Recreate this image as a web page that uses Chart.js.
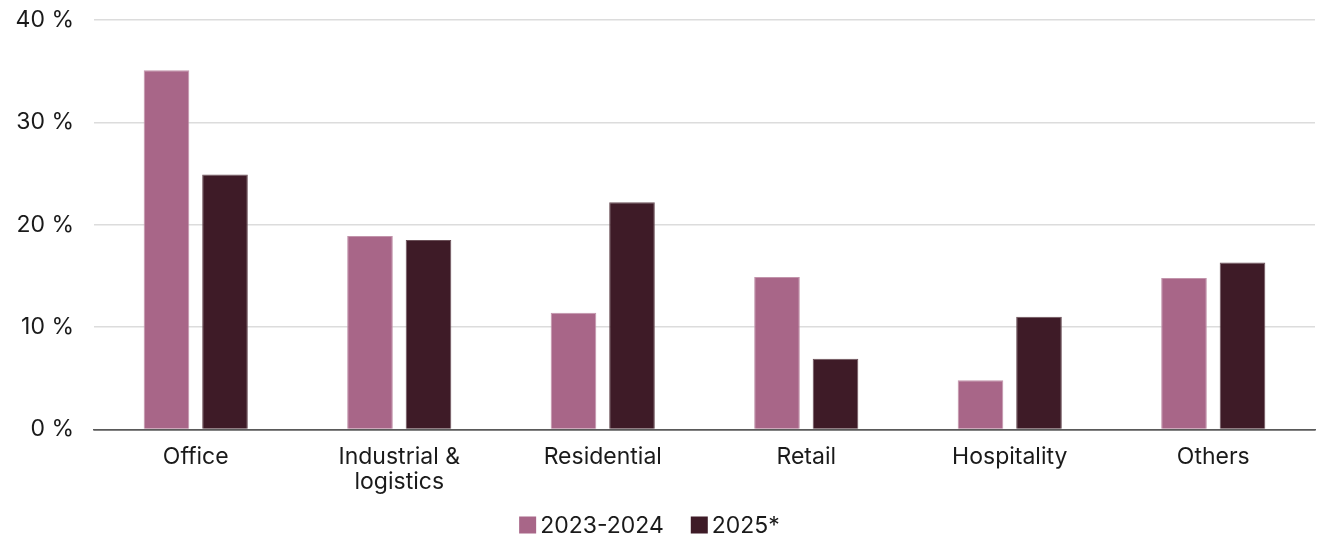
<!DOCTYPE html>
<html>
<head>
<meta charset="utf-8">
<script src="https://cdn.jsdelivr.net/npm/chart.js@4.4.1/dist/chart.umd.min.js"></script>
<style>
  html, body { margin: 0; padding: 0; background: #ffffff; }
  #wrap { width: 1325px; height: 539px; position: relative; }
</style>
</head>
<body>
<div id="wrap"><canvas id="theViz"></canvas></div>
<script>
const sectors = ['Office', ['Industrial &', 'logistics'], 'Residential', 'Retail', 'Hospitality', 'Others'];
const share2023_2024 = [35.1, 18.9, 11.4, 14.9, 4.8, 14.8];
const share2025 = [24.9, 18.5, 22.2, 6.9, 11.0, 16.3];
const yTicks = [0, 10, 20, 30, 40];

const FONT = 'Inter';
const TEXT_COLOR = '#1a1a1a';

// small legend drawn under the axis: tight square-to-text gap
const bottomLegend = {
    id: 'bottomLegend',
    afterDraw(chart) {
        const c = chart.ctx;
        const box = 17, gap = 4, spacing = 27, y = 525;
        c.save();
        c.font = '23px ' + FONT;
        c.textBaseline = 'middle';
        const items = chart.data.datasets.map(ds => ({
            label: ds.label,
            color: ds.backgroundColor,
            w: box + gap + c.measureText(ds.label).width
        }));
        const total = items.reduce((s, it) => s + it.w, 0) + spacing * (items.length - 1);
        let x = chart.width / 2 - 13 - total / 2;
        items.forEach(it => {
            c.fillStyle = it.color;
            c.fillRect(x, y - box / 2, box, box);
            c.fillStyle = TEXT_COLOR;
            c.fillText(it.label, x + box + gap, y + 1);
            x += it.w + spacing;
        });
        c.restore();
    }
};

const ctx = document.getElementById('theViz').getContext('2d');
window.theViz = new Chart(ctx, {
    type: 'bar',
    data: {
        labels: sectors,
        datasets: [{
            label: '2023-2024',
            data: share2023_2024,
            backgroundColor: '#a86688',
            borderColor: '#c294ab',
            borderWidth: 1,
            barPercentage: 0.78,
            categoryPercentage: 0.575
        }, {
            label: '2025*',
            data: share2025,
            backgroundColor: '#3e1b27',
            borderColor: '#6b5058',
            borderWidth: 1,
            barPercentage: 0.78,
            categoryPercentage: 0.575
        }]
    },
    plugins: [bottomLegend],
    options: {
        responsive: true,
        maintainAspectRatio: false,
        animation: false,
        layout: {
            padding: { left: 0, right: 10, top: 20, bottom: 37 }
        },
        plugins: {
            legend: { display: false },
            tooltip: { enabled: false }
        },
        scales: {
            x: {
                grid: { display: false },
                border: { display: true, color: '#5a5a5a', width: 1.5 },
                ticks: {
                    font: { family: FONT, size: 23, lineHeight: 1.1 },
                    color: TEXT_COLOR,
                    padding: 7,
                    maxRotation: 0
                }
            },
            y: {
                min: 0,
                max: 40,
                afterBuildTicks: axis => {
                    axis.ticks = yTicks.map(v => ({ value: v }));
                },
                afterFit: axis => {
                    axis.width = 94;
                    axis.paddingTop = 0;
                    axis.paddingBottom = 0;
                },
                grid: {
                    color: ctx => ctx.tick.value === 0 ? '#5a5a5a' : '#dcdcdc',
                    drawTicks: false,
                    lineWidth: 1.5
                },
                border: { display: false },
                ticks: {
                    font: { family: FONT, size: 23 },
                    color: TEXT_COLOR,
                    padding: 20,
                    callback: v => v + ' %'
                }
            }
        }
    }
});
</script>
</body>
</html>
